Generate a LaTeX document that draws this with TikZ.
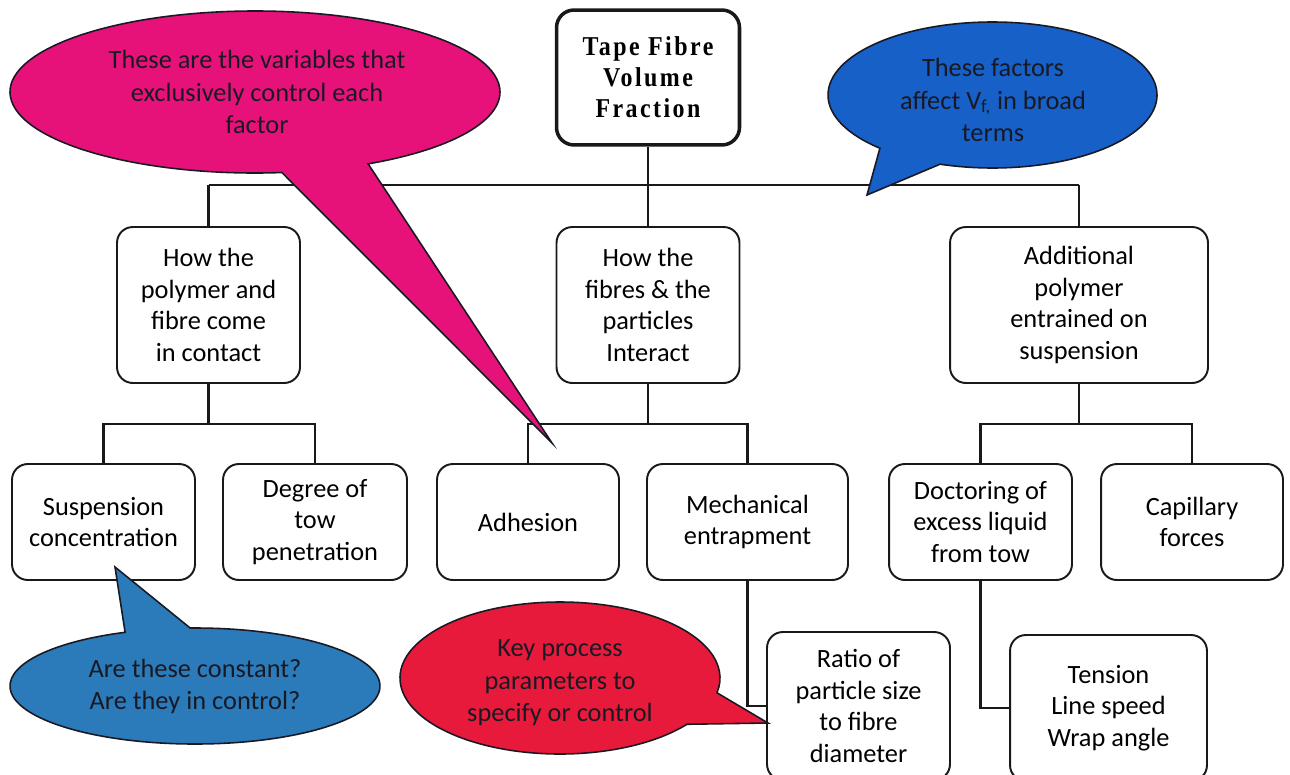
\documentclass[tikz,border=0pt]{standalone}
\usepackage{fontspec}
\setmainfont{Carlito}
\newfontfamily\titlefont[LetterSpace=9,FakeStretch=0.88]{Liberation Serif}
\definecolor{magentab}{RGB}{230,18,122}
\definecolor{blueb}{RGB}{22,96,200}
\definecolor{tealb}{RGB}{43,123,186}
\definecolor{redb}{RGB}{232,26,59}
\definecolor{ink}{RGB}{25,25,35}
\begin{document}
\begin{tikzpicture}[x=0.02cm,y=-0.02cm,
  box/.style={draw=black!90, line width=1.1pt, rounded corners=9pt, align=center,
    font=\fontsize{15}{18}\selectfont, inner sep=2pt},
  titlebox/.style={box, line width=2pt, rounded corners=10pt,
    font=\titlefont\bfseries\fontsize{15.5}{17.6}\selectfont},
  lvtwo/.style={box, minimum width=3.66cm, minimum height=3.12cm},
  lvthree/.style={box, minimum height=2.32cm},
  conn/.style={draw=black!90, line width=1.4pt},
  bubble/.style={line width=0.9pt, draw=ink},
  btext/.style={align=center, text=ink, font=\fontsize{15}{18.5}\selectfont}]
\useasboundingbox (0,0) rectangle (1290,774);
\fill[white] (0,0) rectangle (1290,774);
\clip (0,0) rectangle (1290,774);

% nodes
\node[titlebox, minimum width=3.66cm, minimum height=2.7cm] (title) at (648,77.5) {Tape Fibre\\Volume\\Fraction};
\node[lvtwo] (pc) at (208.5,305) {How the\\polymer and\\fibre come\\in contact};
\node[lvtwo] (fp) at (648,305) {How the\\fibres \& the\\particles\\Interact};
\node[lvtwo, minimum width=5.16cm] (ap) at (1079,305) {Additional\\polymer\\entrained on\\suspension};

\node[lvthree, minimum width=3.66cm] (susp) at (103.5,522) {Suspension\\concentration};
\node[lvthree, minimum width=3.68cm] (deg) at (315,522) {Degree of\\tow\\penetration};
\node[lvthree, minimum width=3.64cm] (adh) at (528,522) {Adhesion};
\node[lvthree, minimum width=4.02cm] (mech) at (747.5,522) {Mechanical\\entrapment};
\node[lvthree, minimum width=3.66cm] (doc) at (980.5,522) {Doctoring of\\excess liquid\\from tow};
\node[lvthree, minimum width=3.64cm] (cap) at (1192,522) {Capillary\\forces};

\node[box, minimum width=3.66cm, minimum height=2.96cm] (ratio) at (858.5,706) {Ratio of\\particle size\\to fibre\\diameter};
\node[box, minimum width=3.94cm, minimum height=2.92cm] (tens) at (1108.5,708) {Tension\\Line speed\\Wrap angle};

% connectors
\coordinate (busL) at (208.5,185);
\coordinate (busR) at (1079,185);
\coordinate (jl) at (208.5,424);
\coordinate (jm) at (648,424);
\coordinate (jr) at (1079,424);
\draw[conn] (title.south) -- (fp.north);
\draw[conn] (busL) -- (busR);
\draw[conn] (busL) -- (pc.north);
\draw[conn] (busR) -- (ap.north);
\draw[conn] (pc.south) -- (jl);
\draw[conn] (susp.north) -- (susp.north |- jl) -- (deg.north |- jl) -- (deg.north);
\draw[conn] (fp.south) -- (jm);
\draw[conn] (adh.north) -- (adh.north |- jm) -- (mech.north |- jm) -- (mech.north);
\draw[conn] (ap.south) -- (jr);
\draw[conn] (doc.north) -- (doc.north |- jr) -- (cap.north |- jr) -- (cap.north);
\draw[conn] (mech.south) |- (ratio.west);
\draw[conn] (doc.south) |- (tens.west);

% callouts
\filldraw[bubble, fill=magentab] ({255+245*cos(83.7)},{92+81*sin(83.7)})
  arc[start angle=83.7, end angle=422.5, x radius=245, y radius=81] -- (552,443) -- cycle;
\node[btext] (mtext) at (257,92) {These are the variables that\\exclusively control each\\factor};

\filldraw[bubble, fill=blueb] ({992.5+164.5*cos(133.2)},{95+73*sin(133.2)})
  arc[start angle=133.2, end angle=468.6, x radius=164.5, y radius=73] -- (867,195) -- cycle;
\node[btext] (btext) at (993,100) {These factors\\affect V\textsubscript{f,} in broad\\terms};

\filldraw[bubble, fill=tealb] ({195+185*cos(268.5)},{686+58*sin(268.5)})
  arc[start angle=268.5, end angle=607.8, x radius=185, y radius=58] -- (115,567) -- cycle;
\node[btext] (ttext) at (195,686.5) {Are these constant?\\Are they in control?};

\filldraw[bubble, fill=redb] ({560+160*cos(37.5)},{678+76*sin(37.5)})
  arc[start angle=37.5, end angle=371.2, x radius=160, y radius=76] -- (768,723) -- cycle;
\node[btext] (rtext) at (560,683) {Key process\\parameters to\\specify or control};
\end{tikzpicture}
\end{document}
